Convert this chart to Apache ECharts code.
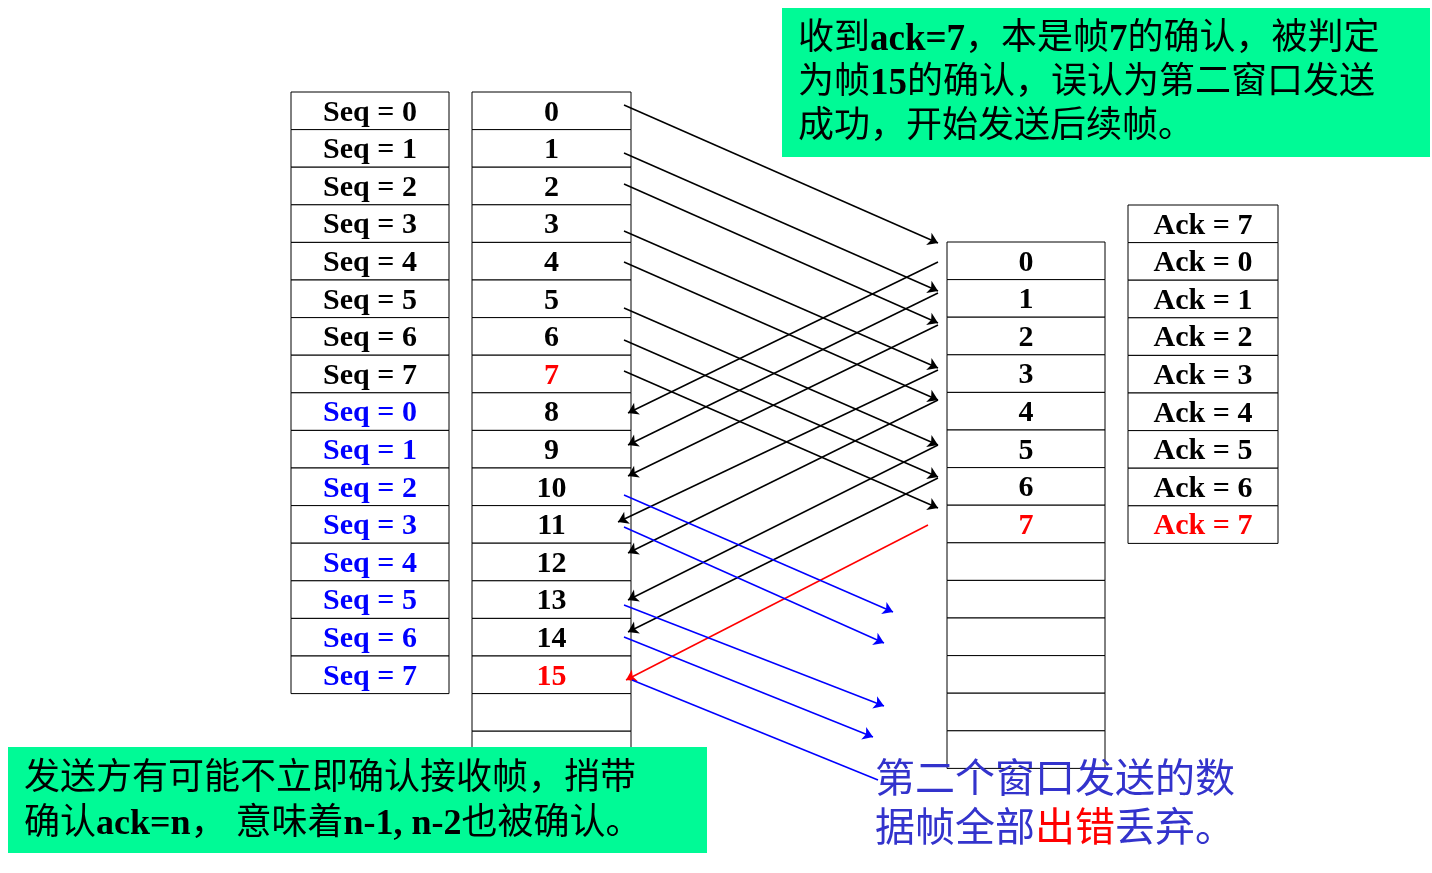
<!DOCTYPE html><html><head><meta charset="utf-8"><script src="https://cdn.jsdelivr.net/npm/echarts@6/dist/echarts.min.js"></script>
<style>html,body{margin:0;padding:0;background:#fff}#c{width:1432px;height:873px}</style></head><body><div id="c"></div><script>
const seqLabels=['Seq = 0','Seq = 1','Seq = 2','Seq = 3','Seq = 4','Seq = 5','Seq = 6','Seq = 7','Seq = 0','Seq = 1','Seq = 2','Seq = 3','Seq = 4','Seq = 5','Seq = 6','Seq = 7'];
const seqColors=['#000','#000','#000','#000','#000','#000','#000','#000','#0000ff','#0000ff','#0000ff','#0000ff','#0000ff','#0000ff','#0000ff','#0000ff'];
const sendLabels=['0','1','2','3','4','5','6','7','8','9','10','11','12','13','14','15','',''];
const sendColors=['#000','#000','#000','#000','#000','#000','#000','#ff0000','#000','#000','#000','#000','#000','#000','#000','#ff0000','#000','#000'];
const recvLabels=['0','1','2','3','4','5','6','7','','','','','',''];
const recvColors=['#000','#000','#000','#000','#000','#000','#000','#ff0000','#000','#000','#000','#000','#000','#000'];
const ackLabels=['Ack = 7','Ack = 0','Ack = 1','Ack = 2','Ack = 3','Ack = 4','Ack = 5','Ack = 6','Ack = 7'];
const ackColors=['#000','#000','#000','#000','#000','#000','#000','#000','#ff0000'];
const fwdLines=[[[624,105],[938,243]],[[624,153],[938,291]],[[624,184],[938,323]],[[624,231],[938,368]],[[624,262],[938,400]],[[624,308],[938,445]],[[624,340],[938,477]],[[624,371],[938,508]]];
const ackLines=[[[938,262],[628,413]],[[938,293],[628,445]],[[938,325],[628,476]],[[938,370],[618,522]],[[938,400],[628,553]],[[938,445],[628,600]],[[938,478],[628,632]]];
const redLine=[[[928,525],[626,680]]];
const blueLines=[[[624,495],[893,612]],[[624,527],[884,643]],[[624,605],[884,706]],[[624,637],[873,737]]];
const blueTail=[[[632,680],[878,780]]];
const RH=37.6;
function colCells(x0,x1,y0,labels,colors){return labels.map((l,i)=>[x0,x1,y0+RH*i,y0+RH*(i+1),l,colors[i]]);}
const cells=[].concat(colCells(291,449,92,seqLabels,seqColors),colCells(472,631,92,sendLabels,sendColors),colCells(947,1105,242,recvLabels,recvColors),colCells(1128,1278,205,ackLabels,ackColors));
const SER='"Liberation Serif","Times New Roman",serif';
const CJK='"Liberation Serif","Noto Sans CJK SC",serif';
const chart=echarts.init(document.getElementById('c'));
function lineSeries(data,color,arrow){return {type:'lines',coordinateSystem:'cartesian2d',polyline:false,symbol:arrow?['none','arrow']:['none','none'],symbolSize:10,lineStyle:{color:color,width:1.5,opacity:1},data:data.map(c=>({coords:c})),z:5};}
chart.setOption({animation:false,
grid:{left:0,right:0,top:0,bottom:0},
xAxis:{type:'value',min:0,max:1432,show:false},
yAxis:{type:'value',min:0,max:873,inverse:true,show:false},
series:[
{type:'custom',data:cells,z:2,renderItem:function(p,api){const d=cells[p.dataIndex];const a=api.coord([d[0],d[2]]),b=api.coord([d[1],d[3]]);
return {type:'group',children:[{type:'rect',shape:{x:a[0],y:a[1],width:b[0]-a[0],height:b[1]-a[1]},style:{fill:'#fff',stroke:'#000',lineWidth:1}},
{type:'text',style:{x:(a[0]+b[0])/2,y:(a[1]+b[1])/2+2,text:d[4],fill:d[5],font:'bold 30px '+SER,align:'center',verticalAlign:'middle'}}]};}},
lineSeries(fwdLines,'#000',true),lineSeries(ackLines,'#000',true),lineSeries(redLine,'#ff0000',true),lineSeries(blueLines,'#0000ff',true),lineSeries(blueTail,'#0000ff',false),
{type:'custom',data:[0],z:10,renderItem:function(p,api){const t1=api.coord([782,8]),t2=api.coord([1430,157]),b1=api.coord([8,747]),b2=api.coord([707,853]);
return {type:'group',children:[
{type:'rect',shape:{x:t1[0],y:t1[1],width:t2[0]-t1[0],height:t2[1]-t1[1]},style:{fill:'#00fa96'}},
{type:'text',style:{x:798,y:18,text:'收到{b|ack=7}，本是帧{b|7}的确认，被判定\n为帧{b|15}的确认，误认为第二窗口发送\n成功，开始发送后续帧。',font:'36px '+CJK,fill:'#000',lineHeight:44,verticalAlign:'top',rich:{b:{font:'bold 37px '+SER,fill:'#000',lineHeight:44}}}},
{type:'rect',shape:{x:b1[0],y:b1[1],width:b2[0]-b1[0],height:b2[1]-b1[1]},style:{fill:'#00fa96'}},
{type:'text',style:{x:24,y:757,text:'发送方有可能不立即确认接收帧，捎带\n确认{b|ack=n}， 意味着{b|n-1, n-2}也被确认。',font:'36px '+CJK,fill:'#000',lineHeight:45,verticalAlign:'top',rich:{b:{font:'bold 36px '+SER,fill:'#000',lineHeight:45}}}},
{type:'text',style:{x:875,y:752,text:'第二个窗口发送的数\n据帧全部{r|出错}丢弃。',font:'40px "Noto Sans CJK SC",sans-serif',fill:'#3333cc',lineHeight:49,verticalAlign:'top',rich:{r:{font:'40px "Noto Sans CJK SC",sans-serif',fill:'#ff0000',lineHeight:49}}}}
]};}}
]});
</script></body></html>
